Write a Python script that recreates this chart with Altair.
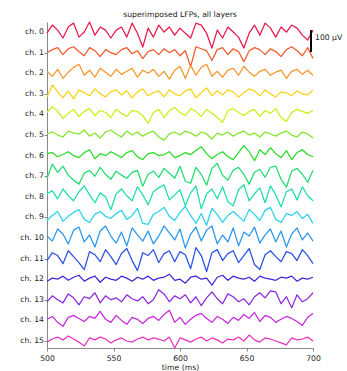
import altair as alt
import pandas as pd

# time samples (ms)
TIME = list(range(500, 701, 4))

# LFP traces (µV), one list per channel
CH = [
    [-5, 32, 9, -27, 23, 41, -23, 0, 46, -14, 23, 9, -27, 9, 23, -23, 41, -5, -68, 18, -23, 32, 0, 23, -14, 18, -5, -27, 41, 32, -5, -73, 9, -27, 23, 0, -23, -73, -5, 32, -14, 41, 18, -23, 23, 0, 32, 18, -14, -36, 9],
    [0, 14, 23, -9, 18, 27, 5, -14, 23, 9, -18, 14, 0, -9, 14, 23, -5, 9, -27, 5, 14, -9, 18, 0, 14, -14, 9, -64, 27, 18, 9, -36, 14, 23, -9, 18, 5, -41, 9, 23, 14, -9, 18, 5, -18, 14, 27, 9, -14, 23, -27],
    [9, -14, 18, -23, 5, 27, 41, -9, 14, -18, 23, 5, -14, 18, -5, 9, 23, -18, 14, 0, 18, -14, 9, -27, 14, 32, -23, 36, -9, 27, 41, -14, 9, -18, 14, 23, -9, 32, 5, -14, 9, 18, -9, 5, 14, -23, 9, 18, -5, 14, -9],
    [-14, 41, 9, -18, 14, -23, 18, 5, -9, 23, 0, -14, 9, 18, -5, 14, -18, 9, 23, -9, 5, 14, -14, 18, 0, -9, 14, 23, -18, 5, 27, -9, 14, -5, 18, 9, -14, 5, 23, 14, -9, 18, 0, -14, 9, 5, -9, 14, 0, -5, 18],
    [9, 36, 14, -18, 5, 23, -9, 14, 27, -5, 18, 9, -14, 23, 5, -9, 18, 14, -5, -41, 9, 23, -14, 18, 32, 9, -5, 27, 14, -9, 23, 5, -14, -36, 18, 27, 9, -5, 14, 23, -9, 18, 5, 27, -14, -32, 9, 23, 14, 5, 18],
    [5, 14, 0, -9, 18, 9, 5, 23, -5, 9, -14, 14, 23, 5, -9, 18, 0, 14, -5, 9, 18, -9, -23, 5, 14, 0, 18, 9, -5, 14, 5, -18, 9, 0, 14, -5, 9, 18, 0, 9, -9, 14, 5, -5, 9, 18, 0, -9, 14, 5, -14],
    [9, 14, -5, 5, 18, 0, -9, 14, 27, -14, 9, 0, 18, 5, -9, 14, 23, -5, -18, 9, 14, 0, 5, 18, -9, 0, 14, 5, 23, 41, 9, -14, 5, 18, -5, -18, 14, 46, 18, -23, 27, 5, 36, 9, -9, 23, -18, 14, 27, 5, -5],
    [-9, 55, 18, 46, 5, -18, -36, 14, 27, 0, 41, 9, -14, 23, 5, -9, 18, 27, -46, 9, 23, -5, 36, 14, -9, 46, -23, -32, 41, 9, -41, 36, 59, 5, -18, 27, 41, 9, -36, 18, 32, -5, 41, 46, -14, -50, 23, 36, 9, -27, 27],
    [14, 27, -9, 36, 5, -18, 23, 50, 9, -27, 18, 0, -59, 14, 36, 5, -18, 46, 9, -36, 23, 41, 55, -14, 9, 32, -41, 18, 50, -55, 14, 36, -9, 46, -23, -41, 32, 55, -18, 14, 41, -27, 50, 9, -46, 23, 36, -14, 46, 5, -18],
    [-14, 9, 27, -18, 5, 23, 36, -9, -23, 14, 27, 5, -5, 18, 32, -9, 9, 41, -27, -32, 14, 27, 46, 5, -14, 23, 50, 9, -27, 18, -36, 41, 14, -23, 9, 27, 5, -18, 36, 14, -14, 32, 46, -9, -23, 18, 9, 27, -5, 14, -27],
    [9, -14, 41, 18, -27, 36, 50, -18, 14, -41, 32, 55, 9, -23, 27, -36, 46, 14, -14, 32, -27, 9, 55, 23, -9, 41, -46, 18, 50, -14, 36, 55, -27, 14, -18, 46, -36, 27, 9, 50, -23, 14, 41, -18, 32, -41, 18, 46, -9, 23, -14],
    [-9, 27, 14, -23, 36, 9, -18, -50, 32, 18, -14, 41, 9, -27, 23, 46, -9, -55, 27, 14, 41, -18, 23, 36, -14, 32, 18, -46, 50, 14, -59, 27, 41, -9, 23, 36, -18, 14, 46, -27, -50, 18, 36, 9, -14, 32, 23, -9, 41, 14, -23],
    [-9, 5, 0, 14, -5, 9, 18, -9, 5, 14, -14, 9, 0, -5, 14, 5, -9, 9, 0, 14, -5, 5, 9, 23, -5, 0, -18, 9, 14, 0, 5, -27, 9, 18, -5, 14, 5, 0, 9, -9, 14, 5, 0, -5, 9, 5, 14, -9, 5, 0, 9],
    [-9, 18, 0, -14, 27, 9, -23, 14, 5, 32, -14, 18, 0, 9, -9, 23, 5, -5, 14, -18, 0, 46, 27, -9, 18, 5, 23, -14, 14, -27, 9, 36, 5, -18, 27, 14, -9, 5, -23, 14, 32, 9, 41, 36, -18, 14, -36, 23, -9, 5, 32],
    [5, 18, -9, -27, 14, 23, 9, -5, 18, 9, 41, 5, -9, 23, 0, -18, 14, 5, -14, 9, 18, 0, 27, 46, -9, 14, -18, 5, 23, 32, 9, -9, 18, 5, -14, 14, 0, 27, 9, 36, -5, 23, 14, -9, 5, 18, 9, -5, -23, 14, 32],
    [-5, 9, 18, 5, 23, 9, -5, -23, 14, 5, 18, 9, -9, 5, 14, 0, -5, 9, 18, 5, 14, 9, 0, 18, -32, 14, 5, -5, 9, 18, 0, 14, 5, -9, 9, 5, 18, 0, 27, 5, -5, 14, 9, 0, -9, -18, 14, 5, 9, 18, 0],
]

CH_LABELS = [f"ch. {i}" for i in range(16)]
COLORS = ["#e8194a", "#f05a28", "#f5962a", "#fad214", "#c8f014", "#82e628",
          "#28dc28", "#1edc6e", "#1edcaa", "#28d2eb", "#2896eb", "#2850e6",
          "#3c28dc", "#8c28dc", "#c828dc", "#e632be"]

SPACING = 94  # vertical offset between channels (µV)
SCALE_BAR = 100  # µV

for c in CH:
    assert len(c) == len(TIME), len(c)

rows = []
for i, vals in enumerate(CH):
    for t, v in zip(TIME, vals):
        rows.append({"t": t, "v": v - SPACING * i, "ch": CH_LABELS[i]})
df = pd.DataFrame(rows)
lab_df = pd.DataFrame({"ch": CH_LABELS, "off": [-SPACING * i for i in range(16)]})

FONT = "DejaVu Sans"
FS = 7.7
Y_SCALE = alt.Scale(domain=[-1442, 46], nice=False, zero=False)

lines = alt.Chart(df).mark_line(strokeWidth=1.25, strokeJoin="round").encode(
    x=alt.X("t:Q", scale=alt.Scale(domain=[500, 700], nice=False, zero=False),
            axis=alt.Axis(values=[500, 550, 600, 650, 700], title="time (ms)",
                          grid=False, tickSize=3, labelPadding=3, titlePadding=2,
                          domainColor="#888", tickColor="#888", labelColor="#222",
                          titleColor="#222", labelFont=FONT, titleFont=FONT,
                          labelFontSize=FS, titleFontSize=FS, titleFontWeight="normal",
                          labelFlush=False, labelOverlap=False)),
    y=alt.Y("v:Q", scale=Y_SCALE,
            axis=alt.Axis(values=[-SPACING * i for i in range(16)], title=None,
                          labels=False, grid=False, tickSize=3,
                          domainColor="#888", tickColor="#888")),
    color=alt.Color("ch:N", scale=alt.Scale(domain=CH_LABELS, range=COLORS), legend=None),
    detail="ch:N",
)

labels = alt.Chart(lab_df).mark_text(align="right", baseline="middle", fontSize=FS,
                                      font=FONT, color="#222").encode(
    x=alt.value(-3), y=alt.Y("off:Q", scale=Y_SCALE), text="ch:N"
)

bar_df = pd.DataFrame({"t": [698.5], "y1": [9], "y2": [9 - SCALE_BAR], "label": [f"{SCALE_BAR} μV"]})
bar = alt.Chart(bar_df).mark_rule(color="black", strokeWidth=2).encode(
    x="t:Q", y="y1:Q", y2="y2:Q"
)
bar_text = alt.Chart(bar_df).transform_calculate(
    ymid="(datum.y1 + datum.y2) / 2 + 12"
).mark_text(align="left", baseline="middle", dx=4,
            fontSize=FS, font=FONT, color="#222").encode(
    x="t:Q", y="ymid:Q", text="label:N"
)

chart = alt.layer(lines, labels, bar, bar_text).properties(
    width=266, height=326,
    title=alt.TitleParams("superimposed LFPs, all layers", fontSize=FS, font=FONT,
                          fontWeight="normal", color="#222", anchor="middle", offset=3),
    autosize=alt.AutoSizeParams(type="none"),
    padding={"left": 47, "top": 22, "right": 34, "bottom": 23},
).configure_view(stroke=None)

chart.save("out.html", embed_options={"renderer": "svg", "actions": False})
